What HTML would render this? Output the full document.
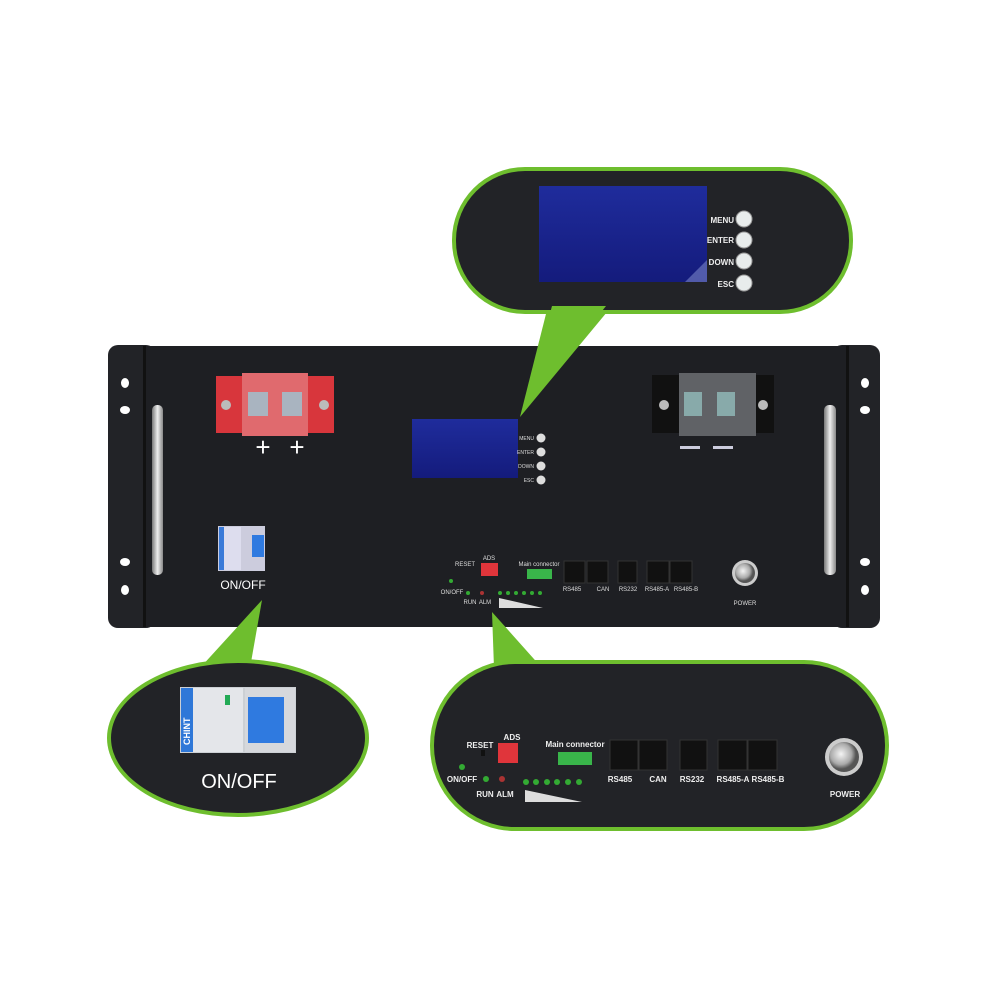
<!DOCTYPE html>
<html><head><meta charset="utf-8"><style>
html,body{margin:0;padding:0;background:#fff;}
svg{display:block;}
text{font-family:"Liberation Sans",sans-serif;}
</style></head><body>
<svg width="1000" height="1000" viewBox="0 0 1000 1000" xmlns="http://www.w3.org/2000/svg">
<defs>
<linearGradient id="silver" x1="0" x2="1"><stop offset="0" stop-color="#777"/><stop offset=".5" stop-color="#eee"/><stop offset="1" stop-color="#888"/></linearGradient>
<radialGradient id="btn" cx=".4" cy=".4"><stop offset="0" stop-color="#f4f4f4"/><stop offset=".7" stop-color="#aaa"/><stop offset="1" stop-color="#555"/></radialGradient>
<linearGradient id="lcd" x1="0" y1="0" x2="0" y2="1"><stop offset="0" stop-color="#1f2c9c"/><stop offset="1" stop-color="#141b7c"/></linearGradient>
</defs>
<rect width="1000" height="1000" fill="#fff"/>

<!-- main chassis -->
<rect x="108" y="345" width="48" height="283" rx="10" fill="#222327"/>
<rect x="832" y="345" width="48" height="283" rx="10" fill="#222327"/>
<rect x="143" y="346" width="706" height="281" fill="#1e1f23"/>
<rect x="143" y="346" width="3" height="281" fill="#111"/>
<rect x="846" y="346" width="3" height="281" fill="#111"/>
<g fill="#fff">
<ellipse cx="125" cy="383" rx="4" ry="5"/><ellipse cx="125" cy="410" rx="5" ry="4"/>
<ellipse cx="125" cy="562" rx="5" ry="4"/><ellipse cx="125" cy="590" rx="4" ry="5"/>
<ellipse cx="865" cy="383" rx="4" ry="5"/><ellipse cx="865" cy="410" rx="5" ry="4"/>
<ellipse cx="865" cy="562" rx="5" ry="4"/><ellipse cx="865" cy="590" rx="4" ry="5"/>
</g>
<rect x="152" y="405" width="11" height="170" rx="5" fill="url(#silver)"/>
<rect x="824" y="405" width="12" height="170" rx="5" fill="url(#silver)"/>

<!-- red terminal -->
<rect x="216" y="376" width="118" height="57" fill="#d8363c"/>
<rect x="242" y="373" width="66" height="63" fill="#e06a6e"/>
<rect x="248" y="392" width="20" height="24" fill="#a9b4c0"/><rect x="282" y="392" width="20" height="24" fill="#a9b4c0"/>
<circle cx="226" cy="405" r="5" fill="#bbb"/><circle cx="324" cy="405" r="5" fill="#bbb"/>
<text x="263" y="456" fill="#fff" font-size="26" text-anchor="middle">+</text>
<text x="297" y="456" fill="#fff" font-size="26" text-anchor="middle">+</text>
<!-- black terminal -->
<rect x="652" y="375" width="122" height="58" fill="#111"/>
<rect x="679" y="373" width="77" height="63" fill="#606266"/>
<rect x="684" y="392" width="18" height="24" fill="#8aa"/><rect x="717" y="392" width="18" height="24" fill="#8aa"/>
<circle cx="664" cy="405" r="5" fill="#bbb"/><circle cx="763" cy="405" r="5" fill="#bbb"/>
<rect x="680" y="446" width="20" height="3" fill="#ccd"/><rect x="713" y="446" width="20" height="3" fill="#ccd"/>

<!-- lcd -->
<rect x="412" y="419" width="106" height="59" fill="url(#lcd)"/>
<g font-size="5" fill="#ddd" text-anchor="end">
<text x="534" y="440">MENU</text><text x="534" y="454">ENTER</text><text x="534" y="468">DOWN</text><text x="534" y="482">ESC</text></g>
<g fill="#ddd"><circle cx="541" cy="438" r="4.5"/><circle cx="541" cy="452" r="4.5"/><circle cx="541" cy="466" r="4.5"/><circle cx="541" cy="480" r="4.5"/></g>

<!-- breaker small -->
<rect x="218" y="526" width="47" height="45" fill="#ccd"/>
<rect x="219" y="527" width="22" height="43" fill="#dde"/>
<rect x="219" y="527" width="5" height="43" fill="#3a7ad8"/>
<rect x="252" y="535" width="12" height="22" fill="#2f7ae0"/>
<text x="243" y="589" fill="#fff" font-size="12" text-anchor="middle">ON/OFF</text>

<!-- bottom controls -->
<g font-size="6" fill="#ddd" text-anchor="middle">
<text x="465" y="566">RESET</text><text x="489" y="560">ADS</text><text x="539" y="566">Main connector</text>
<text x="452" y="594">ON/OFF</text><text x="470" y="604">RUN</text><text x="485" y="604">ALM</text>
<text x="572" y="591">RS485</text><text x="603" y="591">CAN</text><text x="628" y="591">RS232</text><text x="657" y="591">RS485-A</text><text x="686" y="591">RS485-B</text>
<text x="745" y="605">POWER</text></g>
<rect x="481" y="563" width="17" height="13" fill="#e0353b"/>
<rect x="527" y="569" width="25" height="10" fill="#39b54a"/>
<rect x="564" y="561" width="21" height="22" fill="#111" stroke="#333"/><rect x="587" y="561" width="21" height="22" fill="#111" stroke="#333"/>
<rect x="618" y="561" width="19" height="22" fill="#111" stroke="#333"/>
<rect x="647" y="561" width="22" height="22" fill="#111" stroke="#333"/><rect x="670" y="561" width="22" height="22" fill="#111" stroke="#333"/>
<circle cx="451" cy="581" r="2" fill="#3a3"/><circle cx="468" cy="593" r="2" fill="#3a3"/><circle cx="482" cy="593" r="2" fill="#a33"/>
<g fill="#3a3"><circle cx="500" cy="593" r="2"/><circle cx="508" cy="593" r="2"/><circle cx="516" cy="593" r="2"/><circle cx="524" cy="593" r="2"/><circle cx="532" cy="593" r="2"/><circle cx="540" cy="593" r="2"/></g>
<polygon points="499,598 499,608 543,608" fill="#ddd"/>
<circle cx="745" cy="573" r="13" fill="#ccc"/><circle cx="745" cy="573" r="10" fill="url(#btn)"/>

<!-- top callout -->
<polygon points="548,306 612,306 520,417" fill="#6ebe2e"/>
<rect x="452" y="167" width="401" height="147" rx="73" fill="#6ebe2e"/>
<rect x="456" y="171" width="393" height="139" rx="69" fill="#222327"/>
<polygon points="552,306 606,306 524,410" fill="#6ebe2e"/>
<rect x="539" y="186" width="168" height="96" fill="url(#lcd)"/>
<polygon points="685,282 707,260 707,282" fill="#7a86c8" opacity=".6"/>
<g font-size="8" font-weight="bold" fill="#eee" text-anchor="end">
<text x="734" y="223">MENU</text><text x="734" y="243">ENTER</text><text x="734" y="265">DOWN</text><text x="734" y="287">ESC</text></g>
<g fill="#e8ecec" stroke="#999"><circle cx="744" cy="219" r="8"/><circle cx="744" cy="240" r="8"/><circle cx="744" cy="261" r="8"/><circle cx="744" cy="283" r="8"/></g>

<!-- left callout -->
<polygon points="200,668 250,668 262,600" fill="#6ebe2e"/>
<ellipse cx="238" cy="738" rx="131" ry="79" fill="#6ebe2e"/>
<ellipse cx="238" cy="738" rx="127" ry="75" fill="#222327"/>
<rect x="180" y="687" width="116" height="66" fill="#ccd0d4"/>
<rect x="181" y="688" width="62" height="64" fill="#e4e6ea"/>
<rect x="181" y="688" width="12" height="64" fill="#2f78d8"/>
<text x="190" y="745" fill="#fff" font-size="9" font-weight="bold" transform="rotate(-90 190 745)">CHINT</text>
<rect x="245" y="688" width="50" height="64" fill="#d6d8dc"/>
<rect x="248" y="697" width="36" height="46" fill="#2f7ae0"/>
<rect x="225" y="695" width="5" height="10" fill="#2a5"/>
<text x="239" y="788" fill="#fff" font-size="20" text-anchor="middle">ON/OFF</text>

<!-- bottom callout -->
<polygon points="494,668 542,668 492,612" fill="#6ebe2e"/>
<rect x="430" y="660" width="459" height="171" rx="85" fill="#6ebe2e"/>
<rect x="434" y="664" width="451" height="163" rx="81" fill="#222327"/>
<g font-size="8" font-weight="bold" fill="#eee" text-anchor="middle">
<text x="480" y="748">RESET</text><text x="512" y="740">ADS</text><text x="575" y="747">Main connector</text>
<text x="462" y="782">ON/OFF</text><text x="485" y="797">RUN</text><text x="505" y="797">ALM</text>
<text x="620" y="782">RS485</text><text x="658" y="782">CAN</text><text x="692" y="782">RS232</text><text x="733" y="782">RS485-A</text><text x="768" y="782">RS485-B</text>
<text x="845" y="797">POWER</text></g>
<rect x="498" y="743" width="20" height="20" fill="#e0353b"/>
<rect x="558" y="752" width="34" height="13" fill="#39b54a"/>
<rect x="481" y="750" width="4" height="6" fill="#111"/>
<rect x="610" y="740" width="28" height="30" fill="#111" stroke="#333"/><rect x="639" y="740" width="28" height="30" fill="#111" stroke="#333"/>
<rect x="680" y="740" width="27" height="30" fill="#111" stroke="#333"/>
<rect x="718" y="740" width="29" height="30" fill="#111" stroke="#333"/><rect x="748" y="740" width="29" height="30" fill="#111" stroke="#333"/>
<circle cx="462" cy="767" r="3" fill="#3a3"/><circle cx="486" cy="779" r="3" fill="#3a3"/><circle cx="502" cy="779" r="3" fill="#a33"/>
<g fill="#3a3"><circle cx="526" cy="782" r="3"/><circle cx="536" cy="782" r="3"/><circle cx="547" cy="782" r="3"/><circle cx="557" cy="782" r="3"/><circle cx="568" cy="782" r="3"/><circle cx="579" cy="782" r="3"/></g>
<polygon points="525,790 525,802 582,802" fill="#ddd"/>
<circle cx="844" cy="757" r="19" fill="#ccc"/><circle cx="844" cy="757" r="15" fill="url(#btn)"/>
</svg>
</body></html>
